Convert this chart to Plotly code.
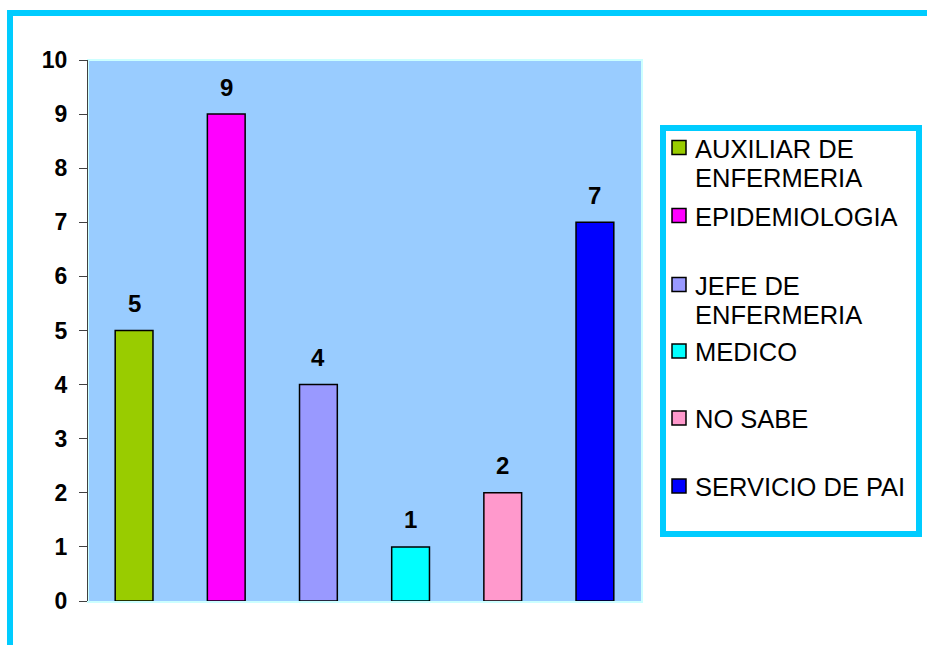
import plotly.graph_objects as go

# Survey answers per category
categories = ["AUXILIAR DE ENFERMERIA", "EPIDEMIOLOGIA", "JEFE DE ENFERMERIA",
              "MEDICO", "NO SABE", "SERVICIO DE PAI"]
counts = [5, 9, 4, 1, 2, 7]
legend_lines = [["AUXILIAR DE", "ENFERMERIA"], ["EPIDEMIOLOGIA"], ["JEFE DE", "ENFERMERIA"],
                ["MEDICO"], ["NO SABE"], ["SERVICIO DE PAI"]]
bar_colors = ["#99CC00", "#FF00FF", "#9999FF", "#00FFFF", "#FF99CC", "#0000FF"]
y_ticks = list(range(0, 11))

W, H = 927, 645
L, R, T, B = 88, 641, 60, 601  # plot area in pixels


def px_x(px):
    return (px - L) / (R - L)


def px_y(py):
    return (B - py) / (B - T)


CYAN = "#00CCFF"
FONT = "Liberation Sans"

fig = go.Figure()
fig.add_trace(go.Bar(
    x=categories, y=counts, width=0.41,
    marker=dict(color=bar_colors, line=dict(color="#000000", width=1.5)),
    showlegend=False, hoverinfo="x+y",
))

annotations = []
# value labels above each bar
for c, v in zip(categories, counts):
    annotations.append(dict(
        x=c, y=v, xref="x", yref="y", text=str(v), showarrow=False,
        yanchor="middle", yshift=27,
        font=dict(family=FONT, size=24, color="#000000", weight="bold"),
    ))

shapes = []
# outer frame
shapes.append(dict(type="rect", xref="paper", yref="paper",
                   x0=px_x(10), x1=px_x(990), y0=px_y(13), y1=px_y(720),
                   line=dict(color=CYAN, width=6), layer="below"))
# plot area edge
shapes.append(dict(type="rect", xref="paper", yref="paper",
                   x0=0, x1=px_x(R + 1), y0=px_y(B + 1), y1=1,
                   line=dict(color="#CCFFFF", width=2), layer="below"))
# legend box
shapes.append(dict(type="rect", xref="paper", yref="paper",
                   x0=px_x(663), x1=px_x(919), y0=px_y(128), y1=px_y(534),
                   line=dict(color=CYAN, width=6), fillcolor="#FFFFFF"))

entry_y = [147.5, 215.5, 284.5, 351, 418, 486]
line_step = 29.5
for lines, col, cy in zip(legend_lines, bar_colors, entry_y):
    shapes.append(dict(type="rect", xref="paper", yref="paper",
                       x0=px_x(672), x1=px_x(686), y0=px_y(cy + 7), y1=px_y(cy - 7),
                       line=dict(color="#000000", width=1.5), fillcolor=col))
    for k, txt in enumerate(lines):
        annotations.append(dict(
            x=px_x(693), y=px_y(cy + k * line_step + 1), xref="paper", yref="paper",
            text=txt, showarrow=False, xanchor="left", yanchor="middle",
            font=dict(family=FONT, size=25.5, color="#000000"),
        ))

fig.update_layout(
    width=W, height=H, autosize=False,
    margin=dict(l=L, r=W - R, t=T, b=H - B, pad=0),
    paper_bgcolor="#FFFFFF", plot_bgcolor="#99CCFF",
    barmode="overlay",
    xaxis=dict(range=[-0.5, 5.5], showticklabels=False, ticks="", showgrid=False,
               zeroline=False, showline=False),
    yaxis=dict(range=[0, 10], tickvals=y_ticks, ticks="outside", ticklen=8,
               tickcolor="#404040", tickwidth=1, showline=True, linecolor="#404040",
               linewidth=1, showgrid=False, zeroline=False, ticklabelstandoff=7,
               tickfont=dict(family=FONT, size=23, color="#000000", weight="bold")),
    shapes=shapes, annotations=annotations,
)

fig.write_html("out.html")
